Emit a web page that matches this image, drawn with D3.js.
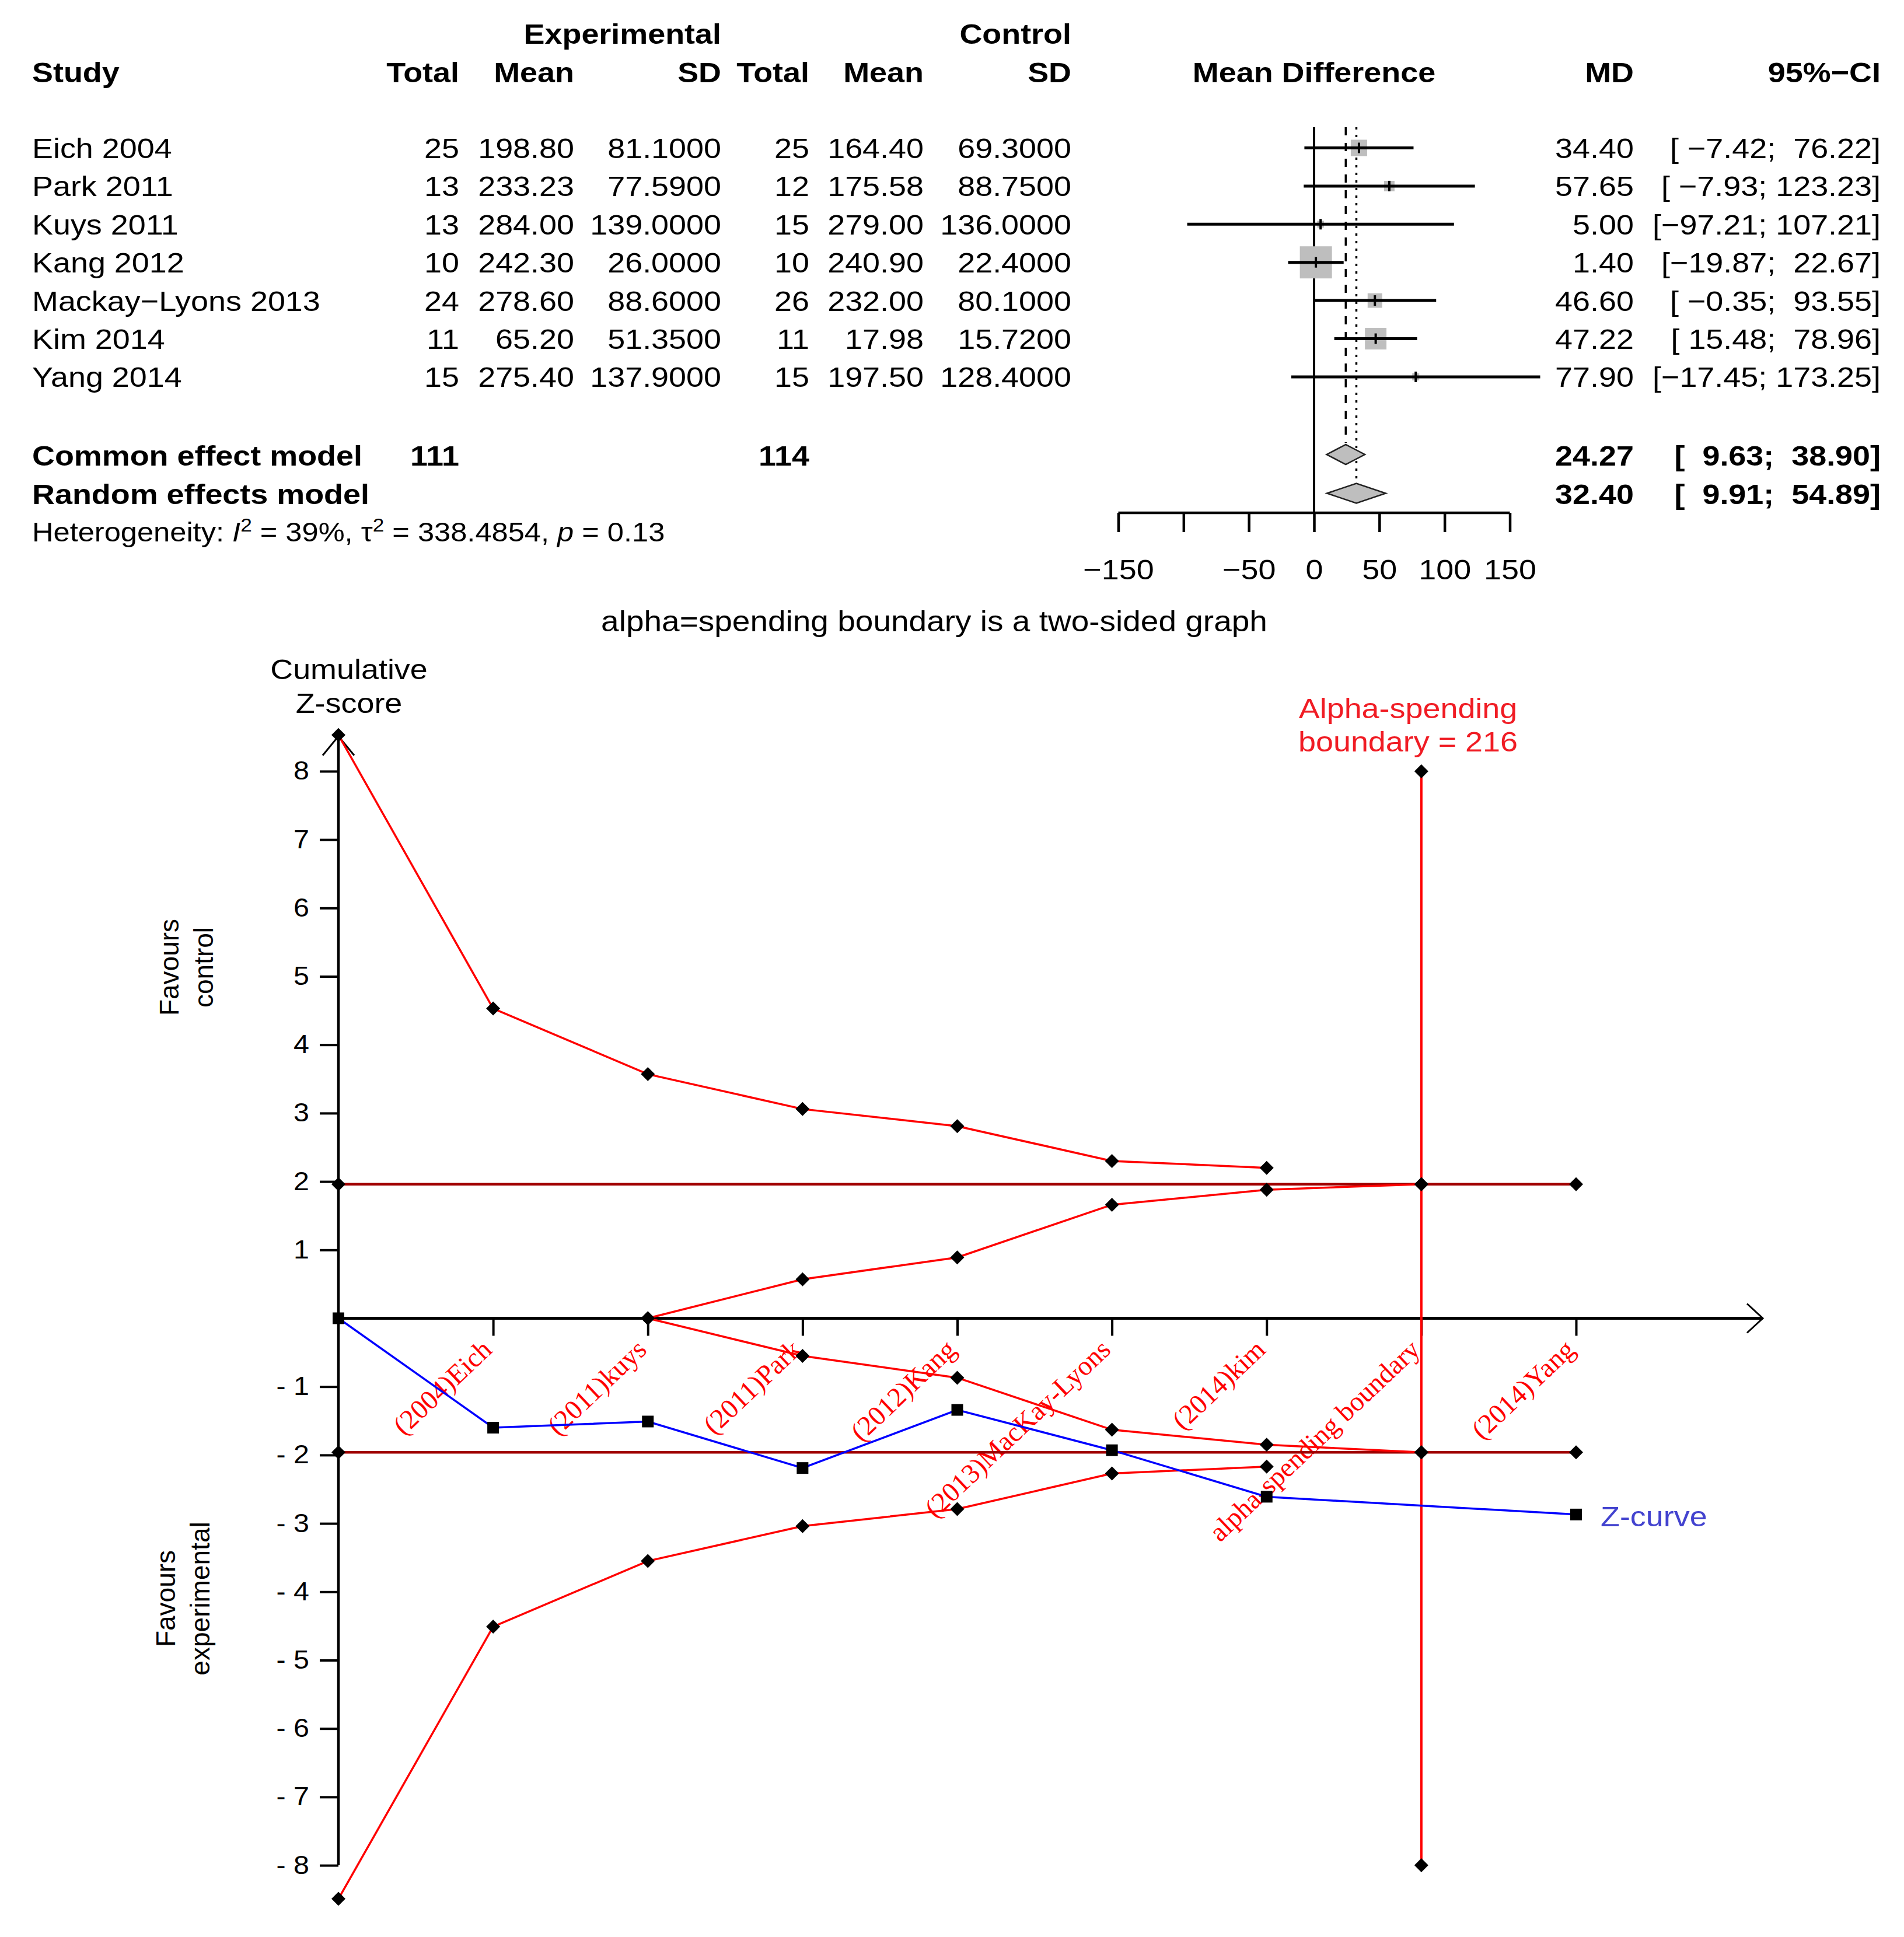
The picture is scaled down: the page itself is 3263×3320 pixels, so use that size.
<!DOCTYPE html>
<html lang="en">
<head>
<meta charset="UTF-8">
<title>Forest plot and trial sequential analysis</title>
<script src="https://d3js.org/d3.v7.min.js"></script>
<style>
    body { margin: 0; background: #fff; }
    svg { display: block; }
    text { font-family: "Liberation Sans", Arial, sans-serif; white-space: pre; }
</style>
</head>
<body>
<svg id="chart" width="3263" height="3320"></svg>
<script>
    // ---- forest plot data ----
    const studies = ['Eich 2004', 'Park 2011', 'Kuys 2011', 'Kang 2012', 'Mackay\u2212Lyons 2013', 'Kim 2014', 'Yang 2014'];
    const expTotal = [25, 13, 13, 10, 24, 11, 15];
    const expMean = [198.80, 233.23, 284.00, 242.30, 278.60, 65.20, 275.40];
    const expSD = [81.1, 77.59, 139.0, 26.0, 88.6, 51.35, 137.9];
    const ctrlTotal = [25, 12, 15, 10, 26, 11, 15];
    const ctrlMean = [164.40, 175.58, 279.00, 240.90, 232.00, 17.98, 197.50];
    const ctrlSD = [69.3, 88.75, 136.0, 22.4, 80.1, 15.72, 128.4];
    const md = [34.40, 57.65, 5.00, 1.40, 46.60, 47.22, 77.90];
    const ciLow = [-7.42, -7.93, -97.21, -19.87, -0.35, 15.48, -17.45];
    const ciHigh = [76.22, 123.23, 107.21, 22.67, 93.55, 78.96, 173.25];
    const weightCommon = [12.3, 5.0, 2.1, 47.3, 9.7, 21.3, 2.3];

    const pooledNames = ['Common effect model', 'Random effects model'];
    const pooledExpTotal = [111, null];
    const pooledCtrlTotal = [114, null];
    const pooledMD = [24.27, 32.40];
    const pooledLow = [9.63, 9.91];
    const pooledHigh = [38.90, 54.89];
    const i2 = 39, tau2 = 338.4854, pHet = 0.13;

    const forestTicks = [-150, -100, -50, 0, 50, 100, 150];
    const forestTickLabels = [-150, -50, 0, 50, 100, 150];

    // ---- trial sequential analysis data ----
    const tsaTitle = 'alpha=spending boundary is a two-sided graph';
    const tsaLabels = ['(2004)Eich', '(2011)kuys', '(2011)Park', '(2012)Kang', '(2013)MacKay-Lyons',
                       '(2014)kim', 'alpha-spending boundary', '(2014)Yang'];
    const zTicks = [8, 7, 6, 5, 4, 3, 2, 1, -1, -2, -3, -4, -5, -6, -7, -8];
    const upperBound = [8.53, 4.53, 3.57, 3.06, 2.81, 2.30, 2.20];          // positions 0..6
    const lowerBound = [-8.49, -4.51, -3.55, -3.04, -2.79, -2.27, -2.17];   // positions 0..6
    const innerPos = [2, 3, 4, 5, 6, 7];
    const innerUpper = [0, 0.57, 0.89, 1.66, 1.88, 1.96];
    const innerLower = [0, -0.55, -0.87, -1.63, -1.85, -1.96];
    const zPos = [0, 1, 2, 3, 4, 5, 6, 8];
    const zCurve = [0, -1.60, -1.51, -2.19, -1.34, -1.93, -2.61, -2.87];
    const conventional = 1.96;
    const convMarkerPos = [0, 7, 8];
    const boundaryPos = 7;
    const boundaryRange = [8, -8];
    const requiredSize = 216;

    const svg = d3.select('#chart');
    const F = 49, SX = 1.1;

    // text helper: the picture is stretched a little sideways, so text gets scaleX
    function label(g, x, y, s, o = {}) {
        const t = g.append('text')
            .attr('transform', `translate(${x},${y}) scale(${o.sx ?? SX},1)`)
            .attr('text-anchor', o.anchor || 'start')
            .style('font-size', (o.size || F) + 'px')
            .style('font-weight', o.bold ? 'bold' : 'normal')
            .style('fill', o.color || '#000')
            .text(s);
        if (o.family) t.style('font-family', o.family);
        return t;
    }

    const fmt = v => (v < 0 ? '\u2212' : '') + Math.abs(v).toFixed(2);
    const allLow = ciLow.concat(pooledLow).map(fmt);
    const allHigh = ciHigh.concat(pooledHigh).map(fmt);
    const wLo = d3.max(allLow, s => s.length), wHi = d3.max(allHigh, s => s.length);
    const ciText = i => '[' + allLow[i].padStart(wLo) + '; ' + allHigh[i].padStart(wHi) + ']';

    // ================= forest plot =================
    const fg = svg.append('g');
    const xF = d3.scaleLinear().domain([-150, 150]).range([1916.5, 2587.5]);
    const yRow = d3.scalePoint().domain(studies).range([253.5, 253.5 + 6 * 65.4]);
    const yPooled = [779, 845.5];
    const base = 17.5;
    const col = { study: 55, expTotal: 787, expMean: 984, expSD: 1236,
                  ctrlTotal: 1387, ctrlMean: 1583, ctrlSD: 1836, md: 2800, ci: 3223 };

    label(fg, col.expSD, 75, 'Experimental', { anchor: 'end', bold: true });
    label(fg, col.ctrlSD, 75, 'Control', { anchor: 'end', bold: true });
    label(fg, col.study, 141, 'Study', { bold: true });
    [['Total', col.expTotal], ['Mean', col.expMean], ['SD', col.expSD],
     ['Total', col.ctrlTotal], ['Mean', col.ctrlMean], ['SD', col.ctrlSD],
     ['MD', col.md], ['95%\u2212CI', col.ci]].forEach(([s, x]) =>
        label(fg, x, 141, s, { anchor: 'end', bold: true }));
    label(fg, xF(0), 141, 'Mean Difference', { anchor: 'middle', bold: true });

    studies.forEach((name, i) => {
        const y = yRow(name) + base;
        label(fg, col.study, y, name);
        label(fg, col.expTotal, y, String(expTotal[i]), { anchor: 'end' });
        label(fg, col.expMean, y, expMean[i].toFixed(2), { anchor: 'end' });
        label(fg, col.expSD, y, expSD[i].toFixed(4), { anchor: 'end' });
        label(fg, col.ctrlTotal, y, String(ctrlTotal[i]), { anchor: 'end' });
        label(fg, col.ctrlMean, y, ctrlMean[i].toFixed(2), { anchor: 'end' });
        label(fg, col.ctrlSD, y, ctrlSD[i].toFixed(4), { anchor: 'end' });
        label(fg, col.md, y, fmt(md[i]), { anchor: 'end' });
        label(fg, col.ci, y, ciText(i), { anchor: 'end' });
    });

    pooledNames.forEach((name, k) => {
        const y = yPooled[k] + base + 1;
        label(fg, col.study, y, name, { bold: true });
        if (pooledExpTotal[k] != null) label(fg, col.expTotal, y, String(pooledExpTotal[k]), { anchor: 'end', bold: true });
        if (pooledCtrlTotal[k] != null) label(fg, col.ctrlTotal, y, String(pooledCtrlTotal[k]), { anchor: 'end', bold: true });
        label(fg, col.md, y, fmt(pooledMD[k]), { anchor: 'end', bold: true });
        label(fg, col.ci, y, ciText(studies.length + k), { anchor: 'end', bold: true });
    });

    const het = fg.append('text')
        .attr('transform', `translate(${col.study},928) scale(${SX},1)`)
        .style('font-size', '46px');
    het.append('tspan').text('Heterogeneity: ');
    het.append('tspan').style('font-style', 'italic').text('I');
    het.append('tspan').attr('dy', -17).style('font-size', '32px').text('2');
    het.append('tspan').attr('dy', 17).text(` = ${i2}%, \u03c4`);
    het.append('tspan').attr('dy', -17).style('font-size', '32px').text('2');
    het.append('tspan').attr('dy', 17).text(` = ${tau2}, `);
    het.append('tspan').style('font-style', 'italic').text('p');
    het.append('tspan').text(` = ${pHet}`);

    const topY = 218, axisY = 879;
    // reference lines
    fg.append('line').attr('x1', xF(0)).attr('x2', xF(0)).attr('y1', topY).attr('y2', axisY)
        .attr('stroke', '#000').attr('stroke-width', 4);
    fg.append('line').attr('x1', xF(pooledMD[0])).attr('x2', xF(pooledMD[0])).attr('y1', topY).attr('y2', yPooled[0] - 20)
        .attr('stroke', '#000').attr('stroke-width', 3.5).attr('stroke-dasharray', '14 13');
    fg.append('line').attr('x1', xF(pooledMD[1])).attr('x2', xF(pooledMD[1])).attr('y1', topY).attr('y2', yPooled[1] - 17)
        .attr('stroke', '#000').attr('stroke-width', 3.5).attr('stroke-dasharray', '4 9');

    const sq = d3.scaleSqrt().domain([0, d3.max(weightCommon)]).range([0, 55]);
    const rows = fg.selectAll('.study').data(studies).enter().append('g').attr('class', 'study');
    rows.append('rect')
        .attr('x', (d, i) => xF(md[i]) - sq(weightCommon[i]) / 2)
        .attr('y', (d, i) => yRow(d) - sq(weightCommon[i]) / 2)
        .attr('width', (d, i) => sq(weightCommon[i]))
        .attr('height', (d, i) => sq(weightCommon[i]))
        .attr('fill', '#bebebe');
    rows.append('line')
        .attr('x1', (d, i) => xF(ciLow[i])).attr('x2', (d, i) => xF(ciHigh[i]))
        .attr('y1', d => yRow(d)).attr('y2', d => yRow(d))
        .attr('stroke', '#000').attr('stroke-width', 5);
    rows.append('line')
        .attr('x1', (d, i) => xF(md[i])).attr('x2', (d, i) => xF(md[i]))
        .attr('y1', d => yRow(d) - 9).attr('y2', d => yRow(d) + 9)
        .attr('stroke', '#000').attr('stroke-width', 4);

    pooledNames.forEach((name, k) => {
        const y = yPooled[k], h = 17;
        fg.append('path')
            .attr('d', `M${xF(pooledLow[k])},${y} L${xF(pooledMD[k])},${y - h} L${xF(pooledHigh[k])},${y} L${xF(pooledMD[k])},${y + h} Z`)
            .attr('fill', '#bebebe').attr('stroke', '#222').attr('stroke-width', 2.5);
    });

    const fAxis = d3.axisBottom(xF).tickValues(forestTicks).tickSize(33)
        .tickFormat(d => forestTickLabels.includes(d) ? fmt(d).replace('.00', '') : '');
    fg.append('g').attr('transform', `translate(0,${axisY})`).call(fAxis)
        .call(g => g.select('.domain').attr('stroke', '#000').attr('stroke-width', 4.5).attr('d', `M${xF(-150)},0H${xF(150)}`))
        .call(g => g.selectAll('.tick line').attr('stroke', '#000').attr('stroke-width', 4.5))
        .call(g => g.selectAll('.tick text').attr('y', null).attr('dy', null)
            .attr('transform', `translate(0,114) scale(${SX},1)`)
            .attr('fill', '#000').style('font-size', F + 'px'));

    // ================= trial sequential analysis =================
    const tg = svg.append('g');
    const xT = d3.scaleLinear().domain([0, 8]).range([580, 2701]);
    const yT = d3.scaleLinear().domain([0, 8]).range([2259.5, 1321.9]);
    const xEnd = 3021;

    label(tg, 1601, 1082, tsaTitle, { anchor: 'middle', size: 50 });
    label(tg, 598, 1164, 'Cumulative', { anchor: 'middle' });
    label(tg, 598, 1222, 'Z-score', { anchor: 'middle' });

    function rotLabel(x, y, lines) {
        lines.forEach((s, k) => {
            tg.append('text').attr('transform', `translate(${x[k]},${y}) rotate(-90)`)
                .attr('text-anchor', 'middle').style('font-size', '46px').text(s);
        });
    }
    rotLabel([306, 365], 1658, ['Favours', 'control']);
    rotLabel([300, 359], 2740, ['Favours', 'experimental']);

    // y axis
    const yAxis = d3.axisLeft(yT).tickValues(zTicks).tickSize(32).tickPadding(18)
        .tickFormat(d => d < 0 ? '- ' + Math.abs(d) : String(d));
    tg.append('g').attr('transform', `translate(${xT(0)},0)`).call(yAxis)
        .call(g => g.select('.domain').remove())
        .call(g => g.selectAll('.tick line').attr('stroke', '#000').attr('stroke-width', 4))
        .call(g => g.selectAll('.tick text').attr('x', -50 / SX).attr('transform', `scale(${SX},1)`)
            .attr('fill', '#000').style('font-size', '44px'));
    tg.append('line').attr('x1', xT(0)).attr('x2', xT(0)).attr('y1', yT(upperBound[0]) + 2).attr('y2', yT(-8))
        .attr('stroke', '#000').attr('stroke-width', 4.5);
    tg.append('path').attr('d', `M${xT(0) - 27},${yT(upperBound[0]) + 35} L${xT(0)},${yT(upperBound[0]) + 2} L${xT(0) + 27},${yT(upperBound[0]) + 35}`)
        .attr('fill', 'none').attr('stroke', '#000').attr('stroke-width', 3);

    // x axis
    const xAxis = d3.axisBottom(xT).tickValues(d3.range(1, 9)).tickSize(30).tickFormat((d) => tsaLabels[d - 1]);
    tg.append('g').attr('transform', `translate(0,${yT(0)})`).call(xAxis)
        .call(g => g.select('.domain').remove())
        .call(g => g.selectAll('.tick line').attr('stroke', '#000').attr('stroke-width', 4))
        .call(g => g.selectAll('.tick text').attr('y', null).attr('dy', null)
            .attr('transform', 'translate(0,57) rotate(-43.5)')
            .attr('text-anchor', 'end').attr('fill', '#ff0000')
            .style('font-family', '"Liberation Serif", "Times New Roman", serif').style('font-size', '47px'));
    tg.append('line').attr('x1', xT(0)).attr('x2', xEnd).attr('y1', yT(0)).attr('y2', yT(0))
        .attr('stroke', '#000').attr('stroke-width', 5);
    tg.append('path').attr('d', `M${xEnd - 27},${yT(0) - 25} L${xEnd},${yT(0)} L${xEnd - 27},${yT(0) + 25}`)
        .attr('fill', 'none').attr('stroke', '#000').attr('stroke-width', 3);

    // conventional boundaries +-1.96
    [conventional, -conventional].forEach(v => {
        tg.append('line').attr('x1', xT(0)).attr('x2', xT(8)).attr('y1', yT(v)).attr('y2', yT(v))
            .attr('stroke', '#a00000').attr('stroke-width', 4.5);
    });

    const line = d3.line().x(d => xT(d[0])).y(d => yT(d[1]));
    const redSeries = [
        upperBound.map((v, i) => [i, v]),
        lowerBound.map((v, i) => [i, v]),
        innerUpper.map((v, i) => [innerPos[i], v]),
        innerLower.map((v, i) => [innerPos[i], v])
    ];
    redSeries.forEach(s => tg.append('path').attr('d', line(s))
        .attr('fill', 'none').attr('stroke', '#ff0000').attr('stroke-width', 3.5));

    // alpha-spending boundary (vertical)
    tg.append('line').attr('x1', xT(boundaryPos)).attr('x2', xT(boundaryPos))
        .attr('y1', yT(boundaryRange[0])).attr('y2', yT(boundaryRange[1]))
        .attr('stroke', '#ff0000').attr('stroke-width', 4);
    label(tg, 2413, 1231, 'Alpha-spending', { anchor: 'middle', color: '#f01c24' });
    label(tg, 2413, 1288, `boundary = ${requiredSize}`, { anchor: 'middle', color: '#f01c24' });

    // Z-curve
    const zData = zCurve.map((v, i) => [zPos[i], v]);
    tg.append('path').attr('d', line(zData)).attr('fill', 'none')
        .attr('stroke', '#0000ff').attr('stroke-width', 3.5);
    label(tg, 2743, 2616, 'Z-curve', { color: '#4343cf' });

    // markers
    const diamond = (x, y, r = 12) => `M${x},${y - r}L${x + r},${y}L${x},${y + r}L${x - r},${y}Z`;
    const diamondPts = []
        .concat(redSeries.flat())
        .concat(convMarkerPos.map(p => [p, conventional]))
        .concat(convMarkerPos.map(p => [p, -conventional]))
        .concat(boundaryRange.map(v => [boundaryPos, v]));
    tg.selectAll('.dm').data(diamondPts).enter().append('path').attr('class', 'dm')
        .attr('d', d => diamond(xT(d[0]), yT(d[1])))
        .attr('fill', '#000');
    tg.selectAll('.zm').data(zData).enter().append('rect').attr('class', 'zm')
        .attr('x', d => xT(d[0]) - 10).attr('y', d => yT(d[1]) - 10)
        .attr('width', 20).attr('height', 20).attr('fill', '#000');
</script>
</body>
</html>
